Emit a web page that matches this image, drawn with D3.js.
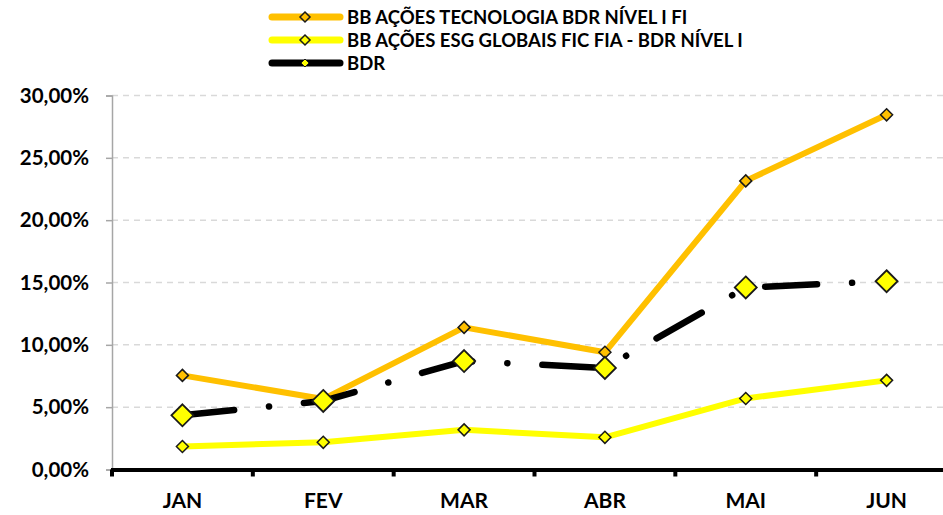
<!DOCTYPE html>
<html>
<head>
<meta charset="utf-8">
<script src="https://cdn.jsdelivr.net/npm/d3@7"></script>
<style>
  html, body { margin: 0; padding: 0; background: #fff; }
  svg { display: block; }
  text { font-family: Lato, "Open Sans", sans-serif; font-weight: bold; fill: #000; }
</style>
</head>
<body>
<svg id="chart" width="943" height="515"></svg>
<script>
const months = ["JAN", "FEV", "MAR", "ABR", "MAI", "JUN"];
const seriesNames = ["BB AÇÕES TECNOLOGIA BDR NÍVEL I FI", "BB AÇÕES ESG GLOBAIS FIC FIA - BDR NÍVEL I", "BDR"];
const tecnologia = [0.0755, 0.0565, 0.1140, 0.0940, 0.2315, 0.2845];
const esg = [0.0185, 0.0218, 0.0318, 0.0258, 0.0570, 0.0715];
const bdr = [0.0435, 0.0550, 0.0870, 0.0815, 0.1460, 0.1510];
const yTicks = [0, 0.05, 0.10, 0.15, 0.20, 0.25, 0.30];

(function () {
const svg = d3.select("#chart");
const pLeft = 112, pRight = 957, pTop = 95.5, pBottom = 469.5;

const x = d3.scaleBand().domain(months).range([pLeft, pRight]);
const y = d3.scaleLinear().domain([0, 0.30]).range([pBottom, pTop]);
const cx = m => x(m) + x.bandwidth() / 2;
const fmt = v => d3.format(".2f")(v * 100).replace(".", ",") + "%";

// gridlines
svg.append("g").selectAll("line").data(yTicks.filter(t => t > 0)).join("line")
  .attr("x1", pLeft).attr("x2", 943)
  .attr("y1", d => y(d)).attr("y2", d => y(d))
  .attr("stroke", "#d9d9d9").attr("stroke-width", 1.5).attr("stroke-dasharray", "6,5");

// y axis
const yAxis = d3.axisLeft(y).tickValues(yTicks).tickFormat(fmt).tickSize(6).tickPadding(17);
const gy = svg.append("g").attr("transform", `translate(${pLeft},0)`).call(yAxis);
gy.select(".domain").attr("stroke", "#a6a6a6").attr("stroke-width", 1.5);
gy.selectAll(".tick line").attr("stroke", "#a6a6a6").attr("stroke-width", 1.5);
gy.selectAll(".tick text").attr("font-size", 20.5).attr("font-family", "Lato").attr("font-weight", "bold").attr("fill", "#000");

// x axis
const xAxis = d3.axisBottom(x).tickSize(0).tickPadding(24);
const gx = svg.append("g").attr("transform", `translate(0,${pBottom})`).call(xAxis);
gx.select(".domain").remove();
gx.selectAll(".tick text").attr("font-size", 21).attr("font-family", "Lato").attr("font-weight", "bold").attr("fill", "#000");
svg.append("line").attr("x1", pLeft - 1).attr("x2", 943).attr("y1", pBottom + 0.5).attr("y2", pBottom + 0.5)
  .attr("stroke", "#000").attr("stroke-width", 4);
svg.append("g").selectAll("line").data(months).join("line")
  .attr("x1", d => x(d)).attr("x2", d => x(d))
  .attr("y1", pBottom).attr("y2", pBottom + 7)
  .attr("stroke", "#000").attr("stroke-width", 4);

const line = d3.line().x((d, i) => cx(months[i])).y(d => y(d));
const diamond = (s) => `M0,${-s}L${s},0L0,${s}L${-s},0Z`;

// ESG line
svg.append("path").datum(esg).attr("d", line).attr("fill", "none")
  .attr("stroke", "#ffff00").attr("stroke-width", 6).attr("stroke-linejoin", "round");
// Tecnologia line
svg.append("path").datum(tecnologia).attr("d", line).attr("fill", "none")
  .attr("stroke", "#ffc000").attr("stroke-width", 6).attr("stroke-linejoin", "round");
// BDR line
svg.append("path").datum(bdr).attr("d", line).attr("fill", "none")
  .attr("stroke", "#000").attr("stroke-width", 6.5).attr("stroke-linecap", "round")
  .attr("stroke-dasharray", "52,35,0.1,35");

// markers
svg.append("g").selectAll("path").data(esg).join("path")
  .attr("transform", (d, i) => `translate(${cx(months[i])},${y(d)})`)
  .attr("d", diamond(6)).attr("fill", "#ffff00").attr("stroke", "#1a1a1a").attr("stroke-width", 1.5);
svg.append("g").selectAll("path").data(tecnologia).join("path")
  .attr("transform", (d, i) => `translate(${cx(months[i])},${y(d)})`)
  .attr("d", diamond(6)).attr("fill", "#ffc000").attr("stroke", "#1a1a1a").attr("stroke-width", 1.5);
svg.append("g").selectAll("path").data(bdr).join("path")
  .attr("transform", (d, i) => `translate(${cx(months[i])},${y(d)})`)
  .attr("d", diamond(11)).attr("fill", "#ffff00").attr("stroke", "#1a1a1a").attr("stroke-width", 1.8);

// legend
const legColors = ["#ffc000", "#ffff00", "#000"];
const legMarker = ["#ffc000", "#ffff00", "#ffff00"];
const lg = svg.append("g");
seriesNames.forEach((name, i) => {
  const ly = 17 + i * 23;
  lg.append("line").attr("x1", 272).attr("x2", 340).attr("y1", ly).attr("y2", ly)
    .attr("stroke", legColors[i]).attr("stroke-width", 7).attr("stroke-linecap", "round");
  lg.append("path").attr("transform", `translate(305,${ly})`)
    .attr("d", diamond(i === 2 ? 4 : 5))
    .attr("fill", legMarker[i]).attr("stroke", "#1a1a1a").attr("stroke-width", i === 2 ? 1 : 1.5);
  lg.append("text").attr("x", 347).attr("y", ly + 6.5).attr("font-size", 18.5).text(name);
});
})();
</script>
</body>
</html>
